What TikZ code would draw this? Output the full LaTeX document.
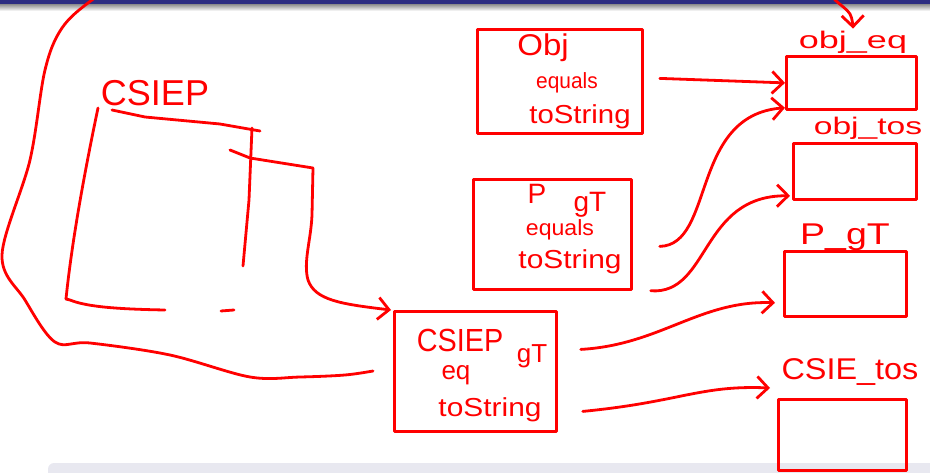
\documentclass[tikz,border=0pt]{standalone}
\usepackage{fontspec}
\newfontfamily\hand{Liberation Sans}
\usetikzlibrary{arrows.meta,calc}
\definecolor{ink}{RGB}{255,0,0}
\definecolor{topbar}{RGB}{46,46,130}
\definecolor{band}{RGB}{232,232,240}
\newcommand\hw[3]{{\hand\fontsize{#1}{#1}\selectfont\scalebox{#2}[1]{#3}}}
\begin{document}
\begin{tikzpicture}[x=1pt,y=-1pt,
  pen/.style={draw=ink,line width=2.8pt,line cap=round,line join=round},
  arr/.style={pen,-{Straight Barb[length=11pt,width=22pt]}},
  box/.style={pen,rectangle,inner sep=0pt,anchor=north west},
  txt/.style={text=ink,inner sep=0pt}]
\useasboundingbox (0,0) rectangle (930,473);
\clip (0,0) rectangle (930,473);
% background details
\fill[band,rounded corners=6pt] (48,463) rectangle (960,490);
\shade[top color=black!45, bottom color=white] (0,4) rectangle (930,11);
\fill[topbar] (0,0) rectangle (930,4);

% ---- CSIEP (open hand-drawn box)
\node[txt] (csieplbl) at (155,93) {\hw{36}{1.0}{CSIEP}};
\node[inner sep=0pt,minimum width=185pt,minimum height=195pt,anchor=north west] (csiep) at (67,108) {};
\draw[pen] (98,108) .. controls (85,170) and (72,240) .. (66,299);
\draw[pen] (112,110) -- (145,117) -- (220,124) -- (260,131);
\draw[pen] (252,128) -- (249,200) -- (243,266);
\draw[pen] (66,299) -- (70,300) .. controls (85,306) and (110,309) .. (165,310);
\draw[pen] (221,311) -- (234,310);
\coordinate (csiepout) at (230,150);

% ---- middle boxes
\node[box,minimum width=165pt,minimum height=104pt] (objbox) at (476,28) {};
\node[txt] at (543,48) {\hw{30}{1.1}{Obj}};
\node[txt] at (567,83) {\hw{22}{0.95}{equals}};
\node[txt] at (580,117) {\hw{26}{1.13}{toString}};

\node[box,minimum width=158pt,minimum height=110pt] (pgtbox) at (472,178) {};
\node[txt] at (537,194) {\hw{28}{1.0}{P}};
\node[txt] at (590,205) {\hw{28}{1.0}{gT}};
\node[txt] at (560,230) {\hw{22}{1.05}{equals}};
\node[txt] at (570,262) {\hw{26}{1.15}{toString}};

\node[box,minimum width=162pt,minimum height=120pt] (cg) at (393,310) {};
\node[txt] at (460,340) {\hw{32}{0.9}{CSIEP}};
\node[txt] at (532,356) {\hw{26}{1.0}{gT}};
\node[txt] at (456,375) {\hw{26}{1.0}{eq}};
\node[txt] at (490,410) {\hw{26}{1.15}{toString}};

% ---- right boxes
\node[txt] (objeqlbl) at (853,42) {\hw{24}{1.5}{obj\_eq}};
\node[box,minimum width=130pt,minimum height=53pt] (objeq) at (785,55) {};
\node[txt] (objtoslbl) at (868,128) {\hw{24}{1.4}{obj\_tos}};
\node[box,minimum width=123pt,minimum height=56pt] (objtos) at (792,142) {};
\node[txt] (pgtlbl) at (845,237) {\hw{30}{1.25}{P\_gT}};
\node[box,minimum width=122pt,minimum height=65pt] (pgt) at (783,250) {};
\node[txt] (csietoslbl) at (850,372) {\hw{30}{1.08}{CSIE\_tos}};
\node[box,minimum width=128pt,minimum height=71pt] (csietos) at (777,398) {};

% ---- connectors
\draw[arr] (csiepout) -- (250,158) -- (313,168) -- (312,215)
  .. controls (311,240) and (303,262) .. (308,280)
  .. controls (315,300) and (340,304) .. ([xshift=-2pt]cg.north west);

\draw[arr] ([xshift=16pt,yshift=3pt]objbox.east) -- (objeq.west);
\draw[arr] ([xshift=27pt,yshift=-12pt]pgtbox.east)
  .. controls (715,245) and (690,115) .. ([yshift=3pt]objeq.south west);
\draw[arr] ([xshift=18pt]pgtbox.south east)
  .. controls (710,295) and (700,195) .. ([xshift=-2pt,yshift=5pt]objtos.south west);
\draw[arr] ([xshift=23pt,yshift=22pt]cg.east)
  .. controls (660,345) and (700,300) .. ([xshift=-8pt,yshift=15pt]pgt.south west);
\draw[arr] ([xshift=25pt,yshift=-40pt]cg.east)
  .. controls (680,402) and (700,385) .. ([xshift=-7pt,yshift=10pt]csietos.north west);

\coordinate (loopstart) at (373,371);
\draw[arr] plot[smooth,tension=0.55] coordinates {(loopstart) (345,375) (300,377) (250,377)
  (170,355) (90,343) (55,342) (25,300) (2,255) (30,160) (45,70) (62,28) (92,0) (140,-30)
  (480,-60) (800,-30) (835,0) (850,14) ([yshift=2pt]objeqlbl.north)};
\end{tikzpicture}
\end{document}
